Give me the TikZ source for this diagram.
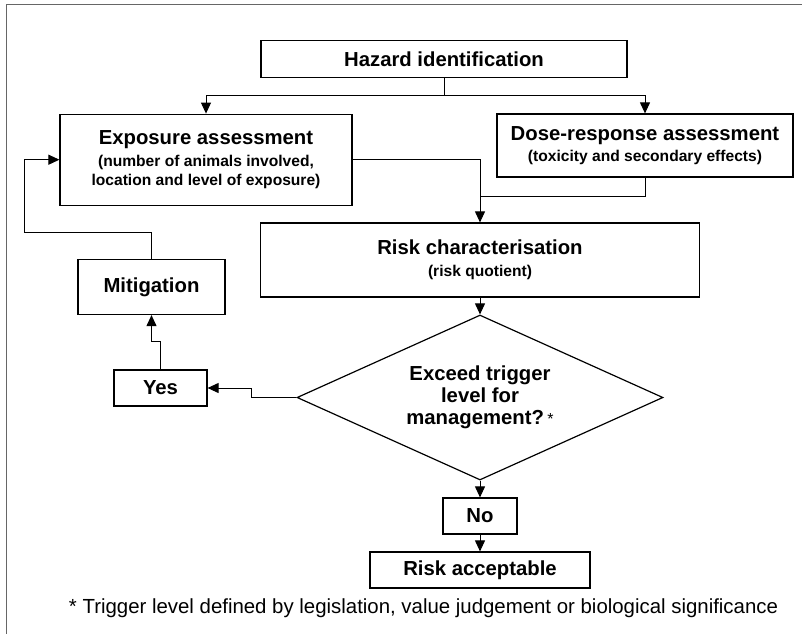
\documentclass[tikz,border=0pt]{standalone}
\usepackage{fontspec}
\setmainfont{Liberation Sans}
\usetikzlibrary{shapes.geometric}
\usetikzlibrary{arrows.meta}
\newcommand{\titlesize}{\fontsize{20.3pt}{22pt}\selectfont}
\newcommand{\subsize}{\fontsize{15.6pt}{19pt}\selectfont}
\tikzset{%
  flowarrow/.style = {-{Triangle[length=11pt,width=10pt]},line width=1pt},
  flowline/.style = {line width=1pt},
  box/.style = {rectangle,draw,line width=1.2pt,inner sep=0pt,
        align=center,font=\bfseries\titlesize},
  decision/.style = {diamond,draw,line width=1.2pt,inner sep=0pt,
        aspect=2.22,minimum width=366pt,minimum height=165pt,
        align=center,font=\bfseries\titlesize}
}

\begin{document}
\begin{tikzpicture}[x=1pt,y=-1pt]
    \useasboundingbox (0,0) rectangle (802,634);
    \draw[black!60,line width=1pt] (802,5) -- (6,5) -- (6,634);
    % boxes
    \node[box,minimum width=366pt,minimum height=37pt] (hazard) at (444,59.2)
        {Hazard identification};
    \node[box,minimum width=292pt,minimum height=91pt] (expo) at (206,159.7)
        {Exposure assessment\\{\subsize (number of animals involved,}\\[-3pt]{\subsize location and level of exposure)}};
    \node[box,minimum width=296pt,minimum height=63pt] (dose) at (645,145.5)
        {Dose-response assessment\\[-1pt]{\subsize (toxicity and secondary effects)}};
    \node[box,minimum width=439pt,minimum height=74pt] (risk) at (480,260)
        {Risk characterisation\\{\subsize (risk quotient)}};
    \node[decision] (exceed) at (480,397.5)
        {Exceed trigger\\level for\\management?\,{\mdseries\fontsize{16pt}{16pt}\selectfont *}};
    \node[box,minimum width=147pt,minimum height=55pt] (miti) at (151.5,287) {Mitigation};
    \node[box,minimum width=93pt,minimum height=36pt] (yes) at (160.5,388) {Yes};
    \node[box,minimum width=74pt,minimum height=36pt] (no) at (480,516) {No};
    \node[box,minimum width=220pt,minimum height=36pt] (accept) at (480,570) {Risk acceptable};
    \node[font=\fontsize{20.4pt}{22pt}\selectfont] (note) at (423.5,608)
        {* Trigger level defined by legislation, value judgement or biological significance};
    % connectors
    \coordinate (split) at (444,95.7);
    \coordinate (join) at (480,196);
    \coordinate (loop) at (24,232.7);
    \draw[flowline] (hazard.south) -- (split);
    \draw[flowarrow] (split) -| (expo.north);
    \draw[flowarrow] (split) -| (dose.north);
    \draw[flowarrow] (expo.east) -| (risk.north);
    \draw[flowline] (dose.south) |- (join);
    \draw[flowarrow] (risk.south) -- (exceed.north);
    \draw[flowarrow] (exceed.west) -- ++(-45,0) |- (yes.east);
    \draw[flowarrow] (yes.north) -- ++(0,-28) -| (miti.south);
    \draw[flowarrow] (miti.north) |- (loop) |- (expo.west);
    \draw[flowarrow] (exceed.south) -- (no.north);
    \draw[flowarrow] (no.south) -- (accept.north);
\end{tikzpicture}
\end{document}
